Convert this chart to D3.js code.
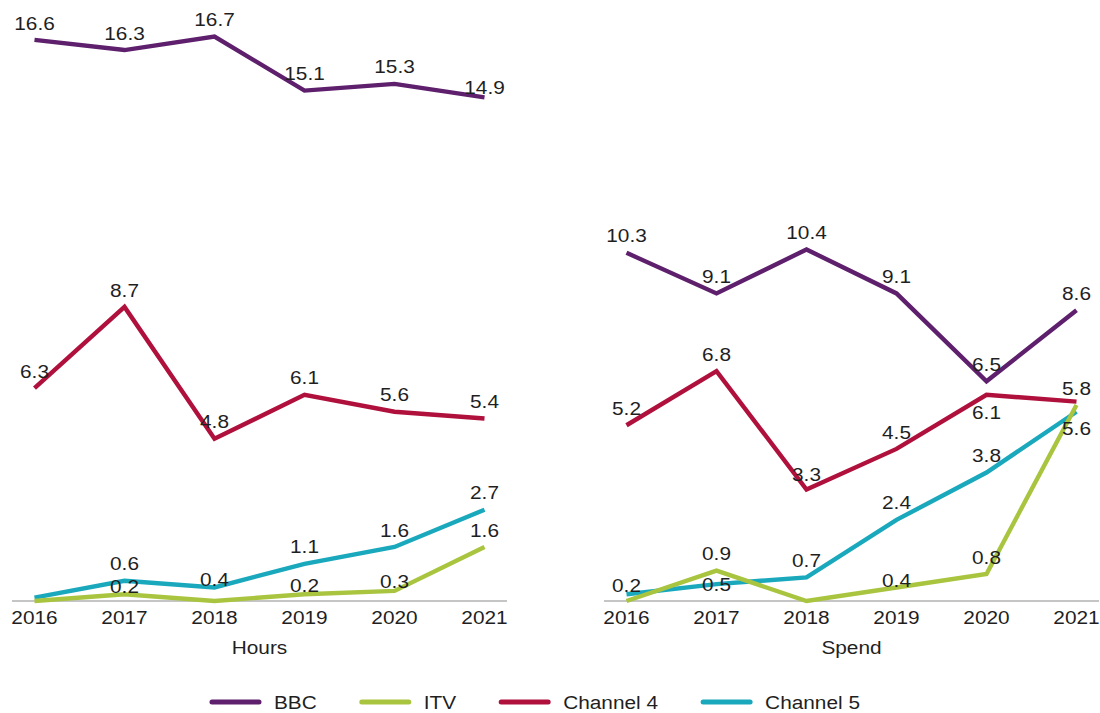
<!DOCTYPE html>
<html>
<head>
<meta charset="utf-8">
<script src="https://cdn.jsdelivr.net/npm/d3@7"></script>
<style>
  html, body { margin: 0; padding: 0; background: #ffffff; }
  svg { display: block; }
  text { font-family: "Liberation Sans", Arial, sans-serif; fill: #1f1f1f; }
</style>
</head>
<body>
<svg id="chart" width="1100" height="713"></svg>
<script>
// ---------- data ----------
const years = ["2016", "2017", "2018", "2019", "2020", "2021"];
const seriesNames = ["BBC", "ITV", "Channel 4", "Channel 5"];
const panelTitles = ["Hours", "Spend"];

// Hours panel
const hoursBBC  = [16.6, 16.3, 16.7, 15.1, 15.3, 14.9];
const hoursITV  = [0.0, 0.2, 0.0, 0.2, 0.3, 1.6];
const hoursCh4  = [6.3, 8.7, 4.8, 6.1, 5.6, 5.4];
const hoursCh5  = [0.1, 0.6, 0.4, 1.1, 1.6, 2.7];

// Spend panel
const spendBBC  = [10.3, 9.1, 10.4, 9.1, 6.5, 8.6];
const spendITV  = [0.0, 0.9, 0.0, 0.4, 0.8, 5.8];
const spendCh4  = [5.2, 6.8, 3.3, 4.5, 6.1, 5.9];
const spendCh5  = [0.2, 0.5, 0.7, 2.4, 3.8, 5.6];

// ---------- style / layout ----------
const colors = {"BBC": "#5e1f6c", "ITV": "#a9c53f", "Channel 4": "#b0103c", "Channel 5": "#1aa8bd"};
const drawOrder = ["BBC", "Channel 4", "Channel 5", "ITV"];
const FS = 18.6, SX = 1.12;
const baseY = 601;
const yMax = 17;
const pxPerUnit = 33.8;

// label placement tweaks (vertical offset of label centre from point; default -17), hidden labels
const labelOffsets = {
  "Hours|BBC|5": -10, "Hours|ITV|1": -8, "Hours|Channel 5|2": -8,
  "Hours|ITV|3": -9, "Hours|ITV|4": -9,
  "Spend|Channel 5|0": -9, "Spend|Channel 5|1": 0, "Spend|Channel 4|4": 18,
  "Spend|Channel 5|5": 17, "Spend|ITV|3": -7, "Spend|Channel 4|2": -15
};
const hiddenLabels = new Set([
  "Hours|ITV|0", "Hours|ITV|2", "Hours|Channel 5|0",
  "Spend|ITV|0", "Spend|ITV|2", "Spend|Channel 4|5"
]);

const panels = [
  {title: panelTitles[0], x0: 12, x1: 507,
   data: {"BBC": hoursBBC, "ITV": hoursITV, "Channel 4": hoursCh4, "Channel 5": hoursCh5}},
  {title: panelTitles[1], x0: 604, x1: 1099,
   data: {"BBC": spendBBC, "ITV": spendITV, "Channel 4": spendCh4, "Channel 5": spendCh5}}
];

const svg = d3.select("#chart");
const y = d3.scaleLinear().domain([0, yMax]).range([baseY, baseY - yMax * pxPerUnit]);

function addText(g, str, x, yy, anchor, size) {
  return g.append("text")
    .attr("transform", `translate(${x},${yy}) scale(${SX},1)`)
    .attr("text-anchor", anchor || "middle")
    .style("font-size", (size || FS) + "px")
    .text(str);
}

panels.forEach(p => {
  const g = svg.append("g");
  const x = d3.scalePoint().domain(years).range([p.x0, p.x1]).padding(0.25);

  // axis
  const axis = d3.axisBottom(x).tickSize(0).tickPadding(0).tickFormat(() => "");
  const ag = g.append("g").attr("transform", `translate(0,${baseY})`).call(axis);
  ag.select(".domain").attr("stroke", "#8c8c8c").attr("stroke-width", 1.2)
    .attr("d", `M${p.x0},0H${p.x1}`);
  years.forEach(yr => addText(g, yr, x(yr), 623.5, "middle"));
  addText(g, p.title, (p.x0 + p.x1) / 2, 654, "middle");

  const line = d3.line().x((d, i) => x(years[i])).y(d => y(d));
  drawOrder.forEach(name => {
    g.append("path")
      .datum(p.data[name])
      .attr("d", line)
      .attr("fill", "none")
      .attr("stroke", colors[name])
      .attr("stroke-width", 4.4)
      .attr("stroke-linejoin", "miter")
      .attr("stroke-linecap", "butt");
  });
  // labels
  seriesNames.forEach(name => {
    p.data[name].forEach((v, i) => {
      const key = `${p.title}|${name}|${i}`;
      if (hiddenLabels.has(key)) return;
      const off = (key in labelOffsets) ? labelOffsets[key] : -17;
      addText(g, d3.format(".1f")(v), x(years[i]), y(v) + off + 6.6, "middle");
    });
  });
});

// legend
const lg = svg.append("g");
const lineLen = 47, gapLT = 15, gapItem = 45, legY = 702;
let items = [];
let cx = 0;
seriesNames.forEach(name => {
  const t = addText(lg, name, 0, legY + 6.6, "start");
  const w = t.node().getComputedTextLength() * SX;
  items.push({name, t, start: cx, w});
  cx += lineLen + gapLT + w + gapItem;
});
const total = cx - gapItem;
const left = 536 - total / 2;
items.forEach(it => {
  const sx = left + it.start;
  lg.append("line")
    .attr("x1", sx).attr("x2", sx + lineLen)
    .attr("y1", legY).attr("y2", legY)
    .attr("stroke", colors[it.name]).attr("stroke-width", 5)
    .attr("stroke-linecap", "round");
  it.t.attr("transform", `translate(${sx + lineLen + gapLT},${legY + 6.6}) scale(${SX},1)`);
});
</script>
</body>
</html>
